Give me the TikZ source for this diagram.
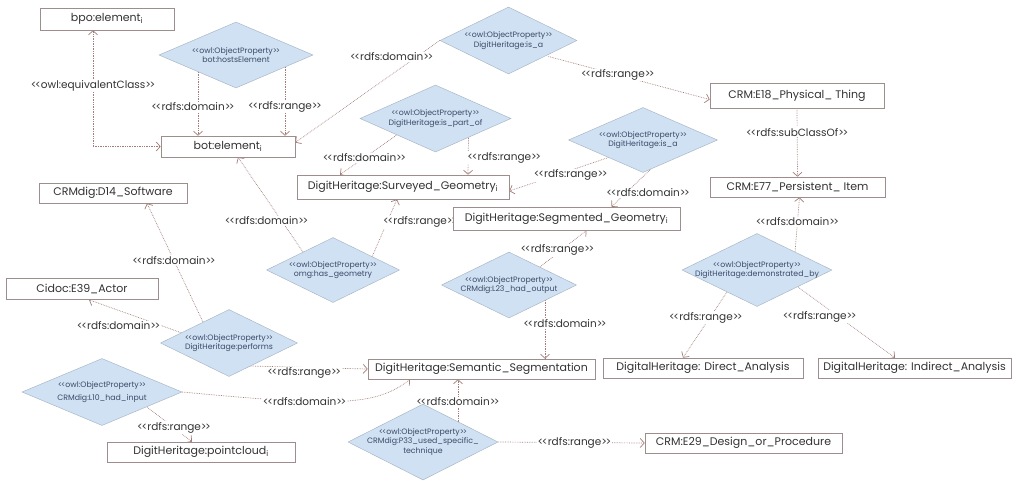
\documentclass[tikz,border=0pt]{standalone}
\usepackage{fontspec}
\setmainfont{Poppins}
\usetikzlibrary{shapes.geometric, arrows.meta, calc, backgrounds}

\definecolor{linkcol}{HTML}{A27C78}
\definecolor{boxcol}{HTML}{9C8E8C}
\definecolor{propfill}{HTML}{CFE1F2}
\definecolor{propline}{HTML}{AAB8C6}
\definecolor{proptext}{HTML}{3C4A68}

\newcommand{\stereo}[1]{<\kern-0.14em<#1>\kern-0.14em>}

\tikzset{
  cls/.style={draw=boxcol, fill=white, line width=0.6pt, minimum height=20pt, inner sep=1pt, font=\fontsize{11}{13}\selectfont, text=black!80},
  prop/.style={diamond, aspect=2.3, draw=propline, fill=propfill, line width=0.5pt, inner xsep=-30pt, inner ysep=0pt, align=center, font=\fontsize{7.8}{9.5}\selectfont, text=proptext},
  rel/.style={->, draw=linkcol, densely dotted, line width=0.7pt},
  lbl/.style={fill=white, inner sep=1pt, font=\fontsize{10.5}{12}\selectfont, text=black!80},
}

\begin{document}
\begin{tikzpicture}[x=1pt, y=-1pt, >={Straight Barb[length=4pt,width=9pt]}]
    \useasboundingbox (0,0) rectangle (1022,480);

    % Classes
    \node[cls, minimum width=134pt, minimum height=22pt] (bpo) at (107,19) {bpo:element\textsubscript{i}};
    \node[cls, minimum width=134pt, minimum height=21pt] (botel) at (228,146.5) {bot:element\textsubscript{i}};
    \node[cls, minimum width=174pt, minimum height=25pt] (physthing) at (797,95.5) {CRM:E18\_Physical\_ Thing};
    \node[cls, minimum width=175pt] (persitem) at (797.5,187) {CRM:E77\_Persistent\_ Item};
    \node[cls, minimum width=212pt, minimum height=24pt] (survgeo) at (403,187) {DigitHeritage:Surveyed\_Geometry\textsubscript{i}};
    \node[cls, minimum width=227pt, minimum height=23pt] (seggeo) at (566.5,218.5) {DigitHeritage:Segmented\_Geometry\textsubscript{i}};
    \node[cls, minimum width=148pt] (software) at (113,193) {CRMdig:D14\_Software};
    \node[cls, minimum width=152pt, minimum height=21pt] (actor) at (82,289) {Cidoc:E39\_Actor};
    \node[cls, minimum width=227pt] (semseg) at (481.5,369) {DigitHeritage:Semantic\_Segmentation};
    \node[cls, minimum width=200pt] (direct) at (703,368) {DigitalHeritage: Direct\_Analysis};
    \node[cls, minimum width=193pt] (indirect) at (914.5,368) {DigitalHeritage: Indirect\_Analysis};
    \node[cls, minimum width=197pt] (design) at (743.5,443) {CRM:E29\_Design\_or\_Procedure};
    \node[cls, minimum width=188pt] (pcloud) at (201,452) {DigitHeritage:pointcloud\textsubscript{i}};

    % Object properties
    \node[prop, minimum width=154pt, minimum height=66pt] (hosts) at (236,55) {\stereo{owl:ObjectProperty}\\bot:hostsElement};
    \node[prop, minimum width=137pt, minimum height=67pt] (isatop) at (508.5,40.5) {\stereo{owl:ObjectProperty}\\DigitHeritage:is\_a};
    \node[prop, minimum width=151pt, minimum height=67pt] (partof) at (435.5,118.5) {\stereo{owl:ObjectProperty}\\DigitHeritage:is\_part\_of};
    \node[prop, minimum width=149pt, minimum height=65pt] (isageo) at (643,140) {\stereo{owl:ObjectProperty}\\DigitHeritage:is\_a};
    \node[prop, minimum width=133pt, minimum height=65pt] (hasgeom) at (333,270) {\stereo{owl:ObjectProperty}\\omg:has\_geometry};
    \node[prop, minimum width=135pt, minimum height=66pt] (hadout) at (509,285) {\stereo{owl:ObjectProperty}\\CRMdig:L23\_had\_output};
    \node[prop, minimum width=150pt, minimum height=73pt] (demby) at (757,270) {\stereo{owl:ObjectProperty}\\DigitHeritage:demonstrated\_by};
    \node[prop, minimum width=137pt, minimum height=67pt] (performs) at (229,343) {\stereo{owl:ObjectProperty}\\DigitHeritage:performs};
    \node[prop, minimum width=160pt, minimum height=67pt] (hadin) at (102,392) {\stereo{owl:ObjectProperty}\\[3pt]CRMdig:L10\_had\_input};
    \node[prop, minimum width=150pt, minimum height=76pt] (usedtech) at (423,442) {\stereo{owl:ObjectProperty}\\CRMdig:P33\_used\_specific\_\\technique};

    % Relations
    \begin{scope}[on background layer]
    \draw[rel, <->] (botel.west) -| ($(bpo.south)+(-14,0)$) node[lbl, pos=0.76] {\stereo{owl:equivalentClass}};
    \draw[rel] ($(hosts)+(-38,0)$) -- ($(botel.north)+(-30,0)$) node[lbl, pos=0.64, xshift=-5pt] {\stereo{rdfs:domain}};
    \draw[rel] ($(hosts)+(49,0)$) -- ($(botel.north)+(57,0)$) node[lbl, pos=0.64] {\stereo{rdfs:range}};
    \draw[rel] (isatop.west) -- ($(botel.east)+(0,-4)$) node[lbl, pos=0.16, xshift=-25pt] {\stereo{rdfs:domain}};
    \draw[rel] ($(isatop)+(40,16)$) -- ($(physthing.west)+(0,4)$) node[lbl, pos=0.43] {\stereo{rdfs:range}};
    \draw[rel] (physthing.south) -- (persitem.north) node[lbl, pos=0.35] {\stereo{rdfs:subClassOf}};
    \draw[rel] ($(partof)+(-38,16)$) -- ($(survgeo.north)+(-63,0)$) node[lbl, pos=0.575] {\stereo{rdfs:domain}};
    \draw[rel] ($(partof)+(33,18)$) -- ($(survgeo.north)+(65,0)$) node[lbl, pos=0.55, xshift=36pt] {\stereo{rdfs:range}};
    \draw[rel] ($(hasgeom)+(-30,-18)$) -- ($(botel.south)+(10,0)$) node[lbl, pos=0.33, xshift=-15pt] {\stereo{rdfs:domain}};
    \draw[rel] ($(hasgeom)+(39,-13)$) -- ($(survgeo.south)+(-6,0)$) node[lbl, pos=0.6, xshift=33pt] {\stereo{rdfs:range}};
    \draw[rel] ($(isageo)+(-33,17)$) -- ($(survgeo.east)+(0,4)$) node[lbl, pos=0.39, yshift=-5pt] {\stereo{rdfs:range}};
    \draw[rel] ($(isageo)+(8,29)$) -- ($(seggeo.north)+(45,0)$) node[lbl, pos=0.63, xshift=22pt] {\stereo{rdfs:domain}};
    \draw[rel] ($(demby)+(38,-18)$) -- ($(persitem.south)+(2,0)$) node[lbl, pos=0.55] {\stereo{rdfs:domain}};
    \draw[rel] ($(demby)+(-30,22)$) -- ($(direct.north)+(-20,0)$) node[lbl, pos=0.39, xshift=-4pt] {\stereo{rdfs:range}};
    \draw[rel] ($(demby)+(41,17)$) -- ($(indirect.north)+(-19.5,0)$) node[lbl, pos=0.42, xshift=-19pt] {\stereo{rdfs:range}};
    \draw[rel] ($(hadout)+(31,-18)$) -- ($(seggeo.south)+(20,0)$) node[lbl, pos=0.46, xshift=-4pt] {\stereo{rdfs:range}};
    \draw[rel] ($(hadout)+(36,15)$) -- ($(semseg.north)+(63.5,0)$) node[lbl, pos=0.4, xshift=20pt] {\stereo{rdfs:domain}};
    \draw[rel] ($(performs)+(-26,-21)$) -- ($(software.south)+(34,0)$) node[lbl, pos=0.52] {\stereo{rdfs:domain}};
    \draw[rel] ($(performs)+(-47,-10)$) -- ($(actor.south)+(7,0)$) node[lbl, pos=0.22, anchor=east] {\stereo{rdfs:domain}};
    \draw[rel] ($(performs)+(21,23)$) -- (semseg.west) node[lbl, pos=0.46, yshift=-6pt] {\stereo{rdfs:range}};
    \draw[rel] (hadin.east) .. controls +(150,14) and +(-35,28) .. node[lbl, pos=0.35] {\stereo{rdfs:domain}} ($(semseg.south)+(-71.5,0)$);
    \draw[rel] ($(hadin)+(45,15)$) -- ($(pcloud.north)+(-9,0)$) node[lbl, pos=0.6] {\stereo{rdfs:range}};
    \draw[rel] ($(usedtech)+(35,-20)$) -- ($(semseg.south)+(-23.5,0)$) node[lbl, pos=0.47] {\stereo{rdfs:domain}};
    \draw[rel] (usedtech.east) -- (design.west) node[lbl, pos=0.52] {\stereo{rdfs:range}};
    \end{scope}
\end{tikzpicture}
\end{document}
